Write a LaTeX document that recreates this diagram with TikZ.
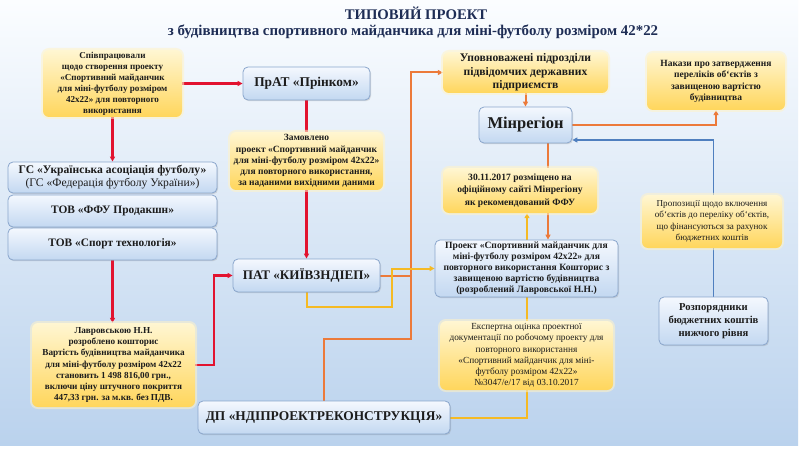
\documentclass[tikz,border=0pt]{standalone}
\usepackage{fontspec}
\setmainfont{Liberation Serif}
\usetikzlibrary{arrows.meta,shadows,calc}
\pgfdeclarelayer{back}
\pgfdeclarelayer{lines}
\pgfsetlayers{back,lines,main}
\definecolor{cred}{HTML}{E2132F}
\definecolor{corange}{HTML}{EC7A3A}
\definecolor{cgold}{HTML}{F5BA24}
\definecolor{cblue}{HTML}{4F7FBF}
\definecolor{ytop}{HTML}{FFF6D2}
\definecolor{ybot}{HTML}{FFD65C}
\definecolor{yglow}{HTML}{FFF3C8}
\definecolor{btop}{HTML}{F4F8FE}
\definecolor{bbot}{HTML}{C3D8F1}
\definecolor{bdraw}{HTML}{8AA6CC}
\definecolor{txt}{HTML}{1C1C1C}
\definecolor{ttl}{HTML}{1E2D55}
\definecolor{bgtop}{HTML}{FBFDFF}
\definecolor{bgbot}{HTML}{BAD2ED}
\tikzset{
  ybox/.style={rounded corners=6pt, top color=ytop, bottom color=ybot, draw=none,
    align=center, inner sep=1pt, text=txt,
    preaction={draw=yglow, line width=4pt, draw opacity=0.55}},
  bbox/.style={rounded corners=5pt, top color=btop, bottom color=bbot, draw=bdraw,
    line width=0.8pt, align=center, inner sep=1pt, text=txt,
    drop shadow={shadow xshift=1pt, shadow yshift=-1.2pt, opacity=0.25}},
  redl/.style={draw=cred, line width=2.2pt},
  orl/.style={draw=corange, line width=2pt},
  gol/.style={draw=cgold, line width=2pt},
  bll/.style={draw=cblue, line width=1.6pt},
  tip/.style={-{Triangle[length=5pt,width=5pt]}},
}
\newcommand{\fs}[2]{\fontsize{#1}{#2}\selectfont}
\begin{document}
\begin{tikzpicture}[x=1pt,y=-1pt]
\useasboundingbox (0,0) rectangle (800,449);
\begin{pgfonlayer}{back}
  \fill[white] (0,0) rectangle (800,449);
  \shade[top color=bgtop, bottom color=bgbot] (0,0) rectangle (798,445);
\end{pgfonlayer}

% title
\node[text=ttl, font=\bfseries\fs{14.7}{16}] (t1) at (416,13) {ТИПОВИЙ ПРОЕКТ};
\node[text=ttl, font=\bfseries\fs{14.9}{16}] (t2) at (413,32) {з будівництва спортивного майданчика для міні-футболу розміром 42*22};

% left column
\node[ybox, minimum width=139pt, minimum height=67pt, font=\bfseries\fs{9.1}{11}] (sp) at (112.5,83.5)
 {Співпрацювали\\ щодо створення проекту\\ «Спортивний майданчик\\ для міні-футболу розміром\\ 42х22» для повторного\\ використання};
\node[bbox, minimum width=209pt, minimum height=31pt, font=\bfseries\fs{11.6}{13}] (gs) at (112.5,177.5)
 {ГС «Українська асоціація футболу»\\ {\mdseries (ГС «Федерація футболу України»)}};
\node[bbox, minimum width=209pt, minimum height=32pt, font=\bfseries\fs{11.4}{12}] (ffu) at (112.5,211)
 {ТОВ «ФФУ Продакшн»};
\node[bbox, minimum width=209pt, minimum height=32pt, font=\bfseries\fs{11.4}{12}] (sport) at (112.5,244)
 {ТОВ «Спорт технологія»};
\node[ybox, minimum width=163pt, minimum height=84pt, font=\bfseries\fs{9.2}{11.1}] (lavr) at (113.5,365)
 {Лавровською Н.Н.\\ розроблено кошторис\\ Вартість будівництва майданчика\\ для міні-футболу розміром 42х22\\ становить 1 498 816,00 грн.,\\ включи ціну штучного покриття\\ 447,33 грн. за м.кв. без ПДВ.};

% middle column
\node[bbox, minimum width=127pt, minimum height=33pt, font=\bfseries\fs{13.4}{14}] (prinkom) at (306.5,83.5)
 {ПрАТ «Прінком»};
\node[ybox, minimum width=153pt, minimum height=58pt, font=\bfseries\fs{9.5}{11.2}] (zam) at (306.5,161)
 {Замовлено\\ проект «Спортивний майданчик\\ для міні-футболу розміром 42х22»\\ для повторного використання,\\ за наданими вихідними даними};
\node[bbox, minimum width=147pt, minimum height=33pt, font=\bfseries\fs{13.1}{14}] (kyiv) at (306.5,275.5)
 {ПАТ «КИЇВЗНДІЕП»};
\node[bbox, minimum width=252pt, minimum height=33pt, font=\bfseries\fs{13.4}{14}] (dp) at (324,417.5)
 {ДП «НДІПРОЕКТРЕКОНСТРУКЦІЯ»};

% right-middle column
\node[ybox, minimum width=165pt, minimum height=41pt, font=\bfseries\fs{11.6}{13.5}] (upov) at (525.5,72.5)
 {Уповноважені підрозділи\\ підвідомчих державних\\ підприємств};
\node[bbox, minimum width=93pt, minimum height=36pt, font=\bfseries\fs{16.5}{17}] (minreg) at (525.5,125)
 {Мінрегіон};
\node[ybox, minimum width=154pt, minimum height=45pt, font=\bfseries\fs{9.6}{12.5}] (d30) at (520,190.5)
 {30.11.2017 розміщено на\\ офіційному сайті Мінрегіону\\ як рекомендований ФФУ};
\node[bbox, minimum width=183pt, minimum height=57pt, font=\bfseries\fs{9.6}{11}] (proekt) at (526.5,268.5)
 {Проект «Спортивний майданчик для\\ міні-футболу розміром 42х22» для\\ повторного використання Кошторис з\\ завищеною вартістю будівництва\\ (розроблений Лавровської Н.Н.)};
\node[ybox, minimum width=173pt, minimum height=69pt, font=\fs{9.3}{11.3}] (ekspert) at (526.5,355.5)
 {Експертна оцінка проектної\\ документації по робочому проекту для\\ повторного використання\\ «Спортивний майданчик для міні-\\ футболу розміром 42х22»\\ №3047/е/17 від 03.10.2017};

% right column
\node[ybox, minimum width=138pt, minimum height=57pt, font=\bfseries\fs{9.5}{11.5}] (nakazy) at (716,81.5)
 {Накази про затвердження\\ переліків об`єктів з\\ завищеною вартістю\\ будівництва};
\node[ybox, minimum width=140pt, minimum height=53pt, font=\fs{9.1}{11.5}] (propoz) at (712,221.5)
 {Пропозиції щодо включення\\ об`єктів до переліку об`єктів,\\ що фінансуються за рахунок\\ бюджетних коштів};
\node[bbox, minimum width=109pt, minimum height=48pt, font=\bfseries\fs{10.6}{13}] (rozp) at (713.5,321)
 {Розпорядники\\ бюджетних коштів\\ нижчого рівня};

\coordinate (oj) at (411,339);
\coordinate (yj) at (392,307);
\coordinate (xo) at (548,0);
\coordinate (xy) at (527,0);

\begin{pgfonlayer}{lines}
  % red
  \draw[redl, tip] (sp.east) -- (prinkom.west);
  \draw[redl, tip] (sp.south) -- (gs.north);
  \draw[redl] (prinkom.south) -- (zam.north);
  \draw[redl, tip] (zam.south) -- (kyiv.north);
  \draw[redl, tip] (sport.south) -- (sport.south |- lavr.north);
  \draw[redl, tip] (lavr.east) -- ++(19,0) |- (kyiv.west);
  % orange
  \draw[orl, tip] (dp.north) |- (oj) |- (upov.west);
  \draw[orl] (kyiv.east) -- (kyiv.east -| oj);
  \draw[orl, tip] (upov.south) -- (minreg.north);
  \draw[orl, tip] (minreg.east) -| (nakazy.south);
  \draw[orl] (minreg.south -| xo) -- (d30.north -| xo);
  \draw[orl, tip] (d30.south -| xo) -- (proekt.north -| xo);
  % gold
  \draw[gol, tip] (proekt.north -| xy) -- (d30.south -| xy);
  \draw[gol, tip] (kyiv.south) |- (yj) |- (proekt.west);
  \draw[gol] (ekspert.north) -- (proekt.south);
  \draw[gol] (ekspert.south) |- (dp.east);
  % blue
  \draw[bll, tip] (rozp.north) |- ([yshift=-15pt]minreg.east);
\end{pgfonlayer}
\end{tikzpicture}
\end{document}
